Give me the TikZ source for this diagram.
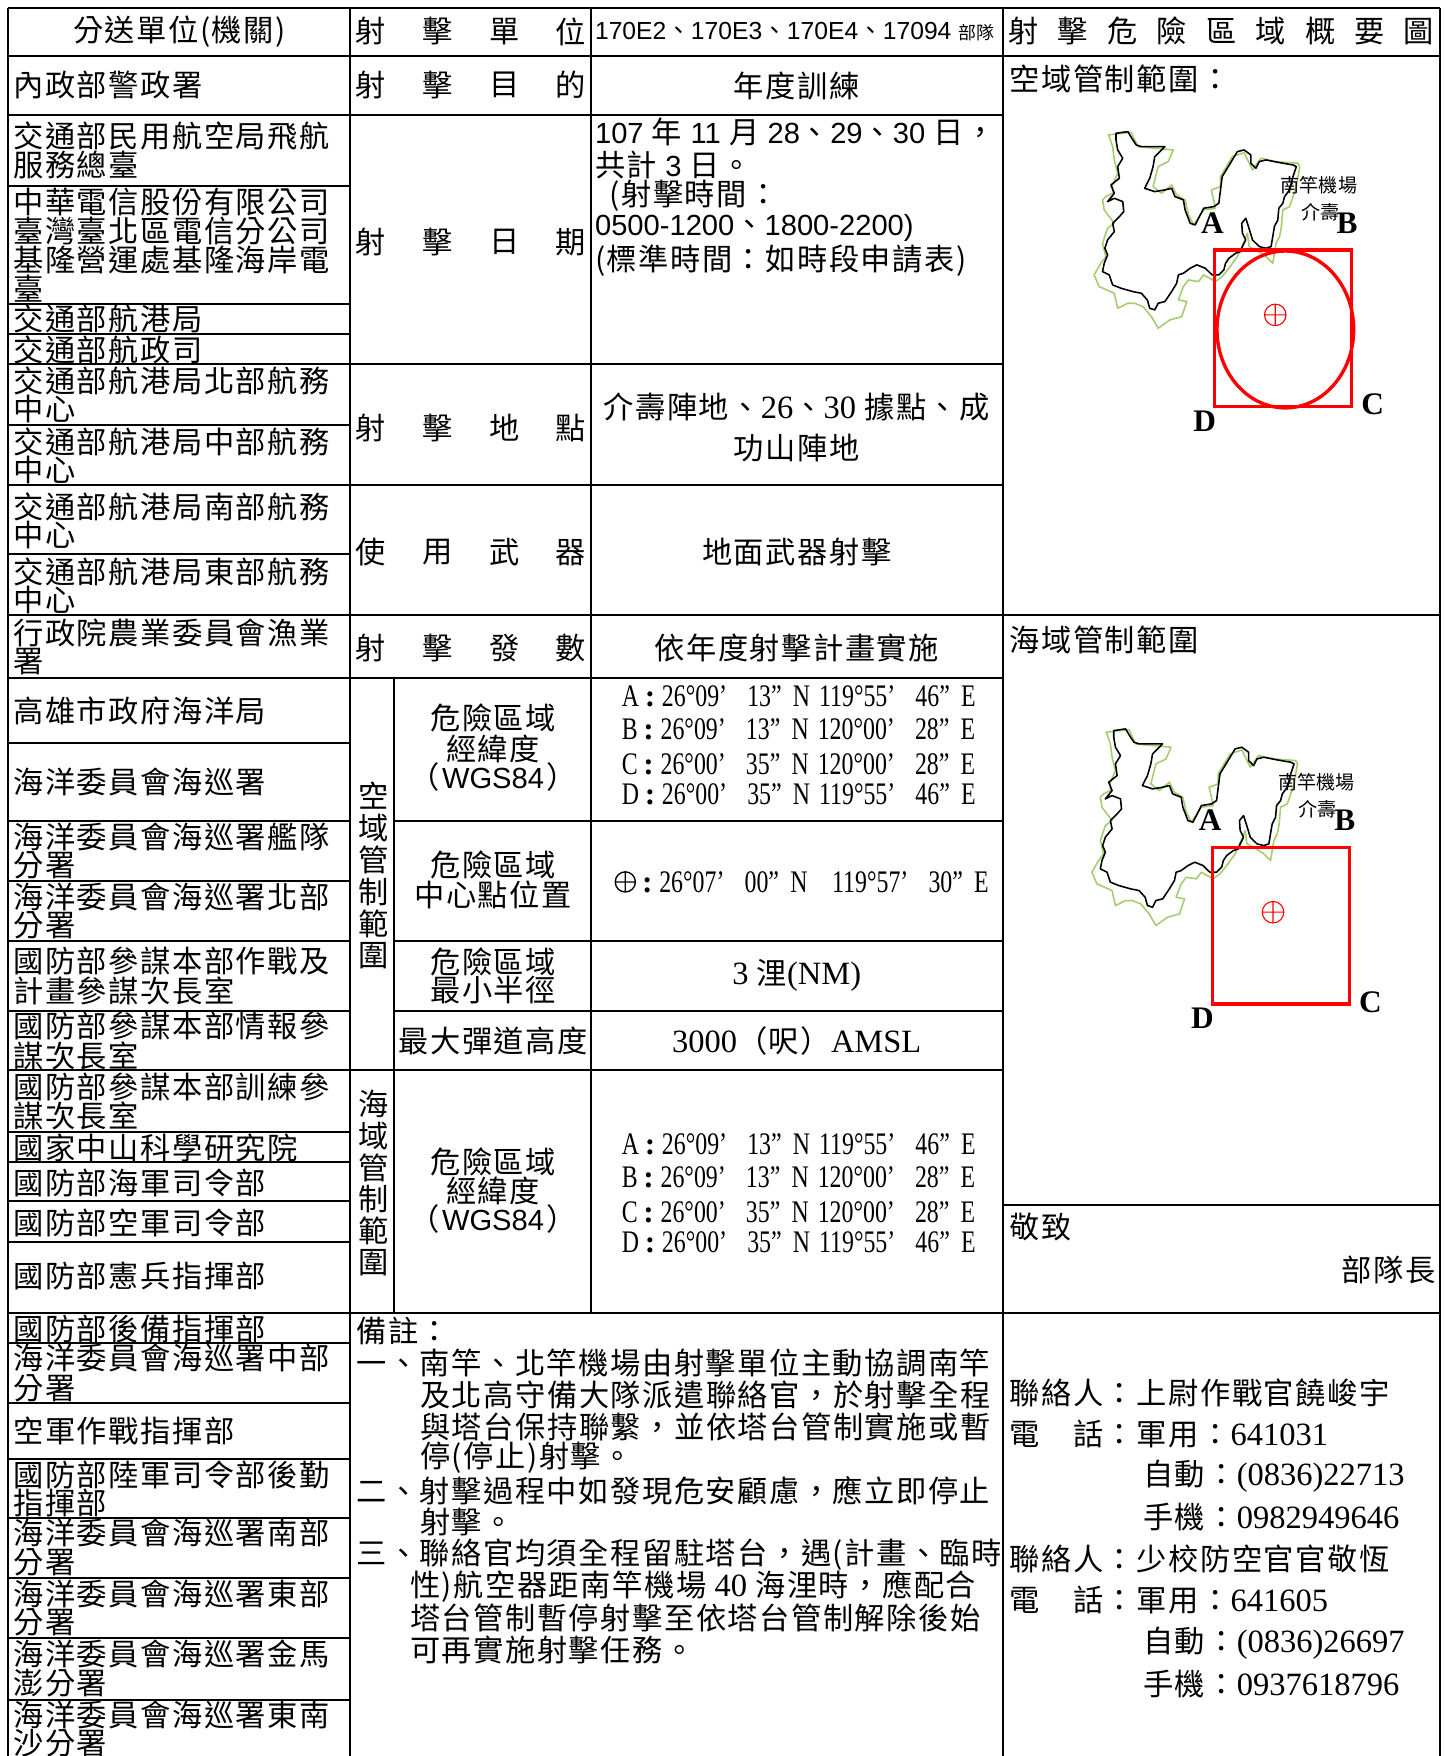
\documentclass[tikz,border=0pt]{standalone}
\usepackage{fontspec}
\newfontfamily\cjf[LetterSpace=5]{Noto Sans CJK TC}
\newfontfamily\cjw{Noto Sans CJK TC}
\newfontfamily\arf{Liberation Sans}
\newfontfamily\tmf{Liberation Serif}
\newfontfamily\tmcf[FakeStretch=0.76]{Liberation Serif}
\newcommand\cjt{\cjf\fontsize{13.5pt}{13.5pt}\selectfont}
\newcommand\cjsm{\cjw\fontsize{8.5pt}{8.5pt}\selectfont}
\newcommand\tmt{\tmf\fontsize{14.5pt}{14.5pt}\selectfont}
\newcommand\tmc{\tmcf\fontsize{14pt}{14pt}\selectfont}
\newcommand\art{\arf\fontsize{13pt}{13pt}\selectfont}
\newcommand\mapl{\tmf\bfseries\fontsize{14pt}{14pt}\selectfont}
\newcommand\cco{\hspace{2.5pt}{\tmf\bfseries :}\hspace{3pt}}
\newcommand\crd[5]{\tmc #1\cco #2\hspace{9pt}#3\hspace{5pt}N\hspace{4pt}#4\hspace{9pt}#5\hspace{5pt}E}
\newcounter{nn}
\newcommand\txl[3][]{\stepcounter{nn}\node[tl,#1] (t\thenn) at (#2) {#3};}
\newcommand\txc[3][]{\stepcounter{nn}\node[tc,#1] (t\thenn) at (#2) {#3};}
\newcommand\txr[3][]{\stepcounter{nn}\node[tr,#1] (t\thenn) at (#2) {#3};}
\definecolor{isl}{RGB}{165,205,110}
\begin{document}
\begin{tikzpicture}[x=0.5pt,y=-0.5pt,
  grid/.style={line width=0.9pt,black},
  tx/.style={inner sep=0pt,outer sep=0pt,font=\cjt},
  tl/.style={tx,anchor=west},
  tc/.style={tx,anchor=center},
  tr/.style={tx,anchor=east},
  redl/.style={draw=red,line width=1.5pt},
  lab/.style={inner sep=0pt,font=\mapl}]
\clip (0,0) rectangle (1290,1567);
\fill[white] (0,0) rectangle (1290,1567);
% ---------- grid ----------
\draw[grid] (7,7) -- (1285,7);
\draw[grid] (7,50) -- (1285,50);
\foreach \y in {103,325,433,605,955} \draw[grid] (7,\y) -- (895,\y);
\foreach \y in {549,1172} \draw[grid] (7,\y) -- (1285,\y);
\foreach \y in {166,271,298,379,494,663,733,786,840,902,1010,1037,1072,1108,1198,1252,1302,1355,1408,1462,1517}
  \draw[grid] (7,\y) -- (312,\y);
\foreach \y in {733,840,902} \draw[grid] (352,\y) -- (895,\y);
\draw[grid] (895,1075) -- (1285,1075);
\draw[grid] (7,7) -- (7,1570);
\draw[grid] (312,7) -- (312,1570);
\draw[grid] (352,605) -- (352,1172);
\draw[grid] (527,7) -- (527,1172);
\draw[grid] (895,7) -- (895,1570);
\draw[grid] (1285,7) -- (1285,1570);
% ---------- header ----------
\txc{160,28}{分送單位(機關)}
\foreach \c [count=\i from 0] in {射,擊,單,位} \node[tc] (h1\i) at (330.5+\i*59.7,28) {\c};
\txl{531,28}{\arf\fontsize{11pt}{11pt}\selectfont 170E2{\cjw、}170E3{\cjw、}170E4{\cjw、}17094 {\cjw\fontsize{8pt}{8pt}\selectfont 部隊}}
\foreach \c [count=\i from 0] in {射,擊,危,險,區,域,概,要,圖} \node[tc] (h2\i) at (913.5+\i*44.1,28) {\c};
% ---------- middle labels ----------
\foreach \c [count=\i from 0] in {射,擊,目,的} \node[tc] (m1\i) at (330.5+\i*59.7,76) {\c};
\foreach \c [count=\i from 0] in {射,擊,日,期} \node[tc] (m2\i) at (330.5+\i*59.7,216) {\c};
\foreach \c [count=\i from 0] in {射,擊,地,點} \node[tc] (m3\i) at (330.5+\i*59.7,382) {\c};
\foreach \c [count=\i from 0] in {使,用,武,器} \node[tc] (m4\i) at (330.5+\i*59.7,493) {\c};
\foreach \c [count=\i from 0] in {射,擊,發,數} \node[tc] (m5\i) at (330.5+\i*59.7,578) {\c};
\foreach \c [count=\i from 0] in {空,域,管,制,範,圍} \node[tc] (v1\i) at (333,710+\i*28.6) {\c};
\foreach \c [count=\i from 0] in {海,域,管,制,範,圍} \node[tc] (v2\i) at (333,985+\i*28.4) {\c};
% ---------- middle content ----------
\txc{711,77}{年度訓練}
\txl{531,118}{{\art 107} 年 {\art 11} 月 {\art 28}、{\art 29}、{\art 30} 日，}
\txl{531,147}{共計 {\art 3} 日。}
\txl{544,175}{(射擊時間：}
\txl{531,203}{{\art 0500-1200}、{\art 1800-2200)}}
\txl{531,233}{(標準時間：如時段申請表)}
\txc{711,363}{介壽陣地、{\tmt 26}、{\tmt 30} 據點、成}
\txc{711,400}{功山陣地}
\txc{711,493}{地面武器射擊}
\txc{711,578}{依年度射擊計畫實施}
\txc{440,641}{危險區域}
\txc{440,668}{經緯度}
\txc{440,693}{（\hspace{1pt}{\arf\fontsize{13pt}{13pt}\selectfont WGS84}\hspace{1pt}）}
\txl{555,621}{\crd{A}{26°09’}{13”}{119°55’}{46”}}
\txl{555,651}{\crd{B}{26°09’}{13”}{120°00’}{28”}}
\txl{555,682}{\crd{C}{26°00’}{35”}{120°00’}{28”}}
\txl{555,709}{\crd{D}{26°00’}{35”}{119°55’}{46”}}
\txc{440,772}{危險區域}
\txc{440,799}{中心點位置}
\draw[line width=0.6pt] (558,787) circle (9) (549,787) -- (567,787) (558,778) -- (558,796);
\txl{568,787}{\tmc \cco 26°07’\hspace{9pt}00”\hspace{5pt}N\hspace{11pt}119°57’\hspace{9pt}30”\hspace{5pt}E}
\txc{440,858}{危險區域}
\txc{440,883}{最小半徑}
\txc{711,870}{{\tmt 3} 浬{\tmt (NM)}}
\txc{440,929}{最大彈道高度}
\txc{711,929}{{\tmt 3000}（呎）{\tmt AMSL}}
\txc{440,1037}{危險區域}
\txc{440,1063}{經緯度}
\txc{440,1088}{（\hspace{1pt}{\arf\fontsize{13pt}{13pt}\selectfont WGS84}\hspace{1pt}）}
\txl{555,1021}{\crd{A}{26°09’}{13”}{119°55’}{46”}}
\txl{555,1051}{\crd{B}{26°09’}{13”}{120°00’}{28”}}
\txl{555,1082}{\crd{C}{26°00’}{35”}{120°00’}{28”}}
\txl{555,1109}{\crd{D}{26°00’}{35”}{119°55’}{46”}}
% ---------- remarks ----------
\txl{318,1188}{備註：}
\txl{318,1216}{一、南竿、北竿機場由射擊單位主動協調南竿}
\txl{375,1245}{及北高守備大隊派遣聯絡官，於射擊全程}
\txl{375,1273}{與塔台保持聯繫，並依塔台管制實施或暫}
\txl{375,1301}{停(停止)射擊。}
\txl{318,1330}{二、射擊過程中如發現危安顧慮，應立即停止}
\txl{375,1358}{射擊。}
\txl{318,1387}{三、聯絡官均須全程留駐塔台，遇(計畫、臨時}
\txl{366,1416}{性)航空器距南竿機場 {\tmt 40} 海浬時，應配合}
\txl{366,1444}{塔台管制暫停射擊至依塔台管制解除後始}
\txl{366,1472}{可再實施射擊任務。}
% ---------- left column ----------
\txl{12,76}{內政部警政署}
\txl{12,121}{交通部民用航空局飛航}
\txl{12,147}{服務總臺}
\txl{12,180}{中華電信股份有限公司}
\txl{12,206}{臺灣臺北區電信分公司}
\txl{12,232}{基隆營運處基隆海岸電}
\txl{12,258}{臺}
\txl{12,285}{交通部航港局}
\txl{12,312}{交通部航政司}
\txl{12,340}{交通部航港局北部航務}
\txl{12,365}{中心}
\txl{12,394}{交通部航港局中部航務}
\txl{12,419}{中心}
\txl{12,452}{交通部航港局南部航務}
\txl{12,477}{中心}
\txl{12,510}{交通部航港局東部航務}
\txl{12,535}{中心}
\txl{12,565}{行政院農業委員會漁業}
\txl{12,590}{署}
\txl{12,634}{高雄市政府海洋局}
\txl{12,698}{海洋委員會海巡署}
\txl{12,747}{海洋委員會海巡署艦隊}
\txl{12,772}{分署}
\txl{12,800}{海洋委員會海巡署北部}
\txl{12,826}{分署}
\txl{12,858}{國防部參謀本部作戰及}
\txl{12,884}{計畫參謀次長室}
\txl{12,916}{國防部參謀本部情報參}
\txl{12,942}{謀次長室}
\txl{12,970}{國防部參謀本部訓練參}
\txl{12,996}{謀次長室}
\txl{12,1024}{國家中山科學研究院}
\txl{12,1056}{國防部海軍司令部}
\txl{12,1091}{國防部空軍司令部}
\txl{12,1139}{國防部憲兵指揮部}
\txl{12,1186}{國防部後備指揮部}
\txl{12,1212}{海洋委員會海巡署中部}
\txl{12,1239}{分署}
\txl{12,1277}{空軍作戰指揮部}
\txl{12,1316}{國防部陸軍司令部後勤}
\txl{12,1341}{指揮部}
\txl{12,1368}{海洋委員會海巡署南部}
\txl{12,1394}{分署}
\txl{12,1422}{海洋委員會海巡署東部}
\txl{12,1448}{分署}
\txl{12,1476}{海洋委員會海巡署金馬}
\txl{12,1502}{澎分署}
\txl{12,1530}{海洋委員會海巡署東南}
\txl{12,1556}{沙分署}
% ---------- right column ----------
\txl{901,70}{空域管制範圍：}
\txl{901,571}{海域管制範圍}
\txl{901,1095}{敬致}
\txr{1281,1133}{部隊長}
\txl{901,1243}{聯絡人：上尉作戰官饒峻宇}
\txl{901,1280}{電　話：軍用：{\tmt 641031}}
\txl{1020,1317}{自動：{\tmt (0836)22713}}
\txl{1020,1354}{手機：{\tmt 0982949646}}
\txl{901,1391}{聯絡人：少校防空官官敬恆}
\txl{901,1428}{電　話：軍用：{\tmt 641605}}
\txl{1020,1466}{自動：{\tmt (0836)26697}}
\txl{1020,1503}{手機：{\tmt 0937618796}}
% ---------- maps ----------
\foreach \dx/\dy [count=\k] in {0/0,-2/533}{
  \begin{scope}[shift={(892.1+\dx,89.2+\dy)},xscale=0.3008,yscale=0.2974]
    \draw[isl,line width=0.7pt,line join=round] plot coordinates {(322,105) (390,97) (410,140) (515,150) (500,185) (470,200) (465,220) (455,260) (480,280) (510,255) (525,285) (550,300) (560,345) (575,375) (605,330) (640,325) (628,270) (655,260) (655,230) (690,170) (725,158) (750,210) (775,175) (820,185) (885,190) (890,200) (880,260) (860,320) (840,330) (835,385) (830,410) (820,430) (810,490) (790,470) (760,450) (740,440) (735,400) (725,425) (705,470) (680,505) (660,530) (640,545) (605,525) (590,545) (560,540) (545,560) (530,600) (555,605) (540,650) (505,660) (470,685) (450,650) (425,620) (400,610) (380,610) (350,625) (340,580) (295,560) (280,525) (300,490) (315,470) (305,430) (320,385) (340,370) (310,330) (305,300) (315,290) (335,280) (335,255) (350,220) (340,180) (335,140) (325,110)} -- cycle;
    \draw[black,line width=0.7pt,line join=round] plot coordinates {(345,100) (380,95) (395,120) (405,135) (420,140) (490,140) (470,160) (460,170) (455,200) (445,235) (430,265) (460,275) (490,270) (510,265) (520,290) (545,300) (550,330) (565,370) (580,375) (595,345) (605,325) (635,320) (650,310) (655,270) (660,230) (690,180) (705,155) (725,150) (745,165) (745,190) (760,205) (770,185) (790,180) (830,188) (870,195) (880,200) (870,230) (860,270) (845,290) (840,310) (828,325) (825,360) (815,380) (810,410) (805,440) (790,445) (770,440) (750,420) (738,380) (730,355) (718,370) (720,400) (730,420) (720,440) (715,455) (700,460) (680,475) (670,490) (665,510) (650,525) (630,525) (610,505) (585,495) (565,505) (545,520) (530,525) (525,550) (510,575) (500,590) (490,605) (470,610) (460,630) (445,625) (438,600) (420,580) (395,575) (360,565) (335,555) (325,525) (305,515) (310,490) (320,465) (312,445) (320,420) (340,395) (335,370) (355,350) (368,335) (365,305) (340,295) (320,305) (340,280) (330,255) (355,235) (350,200) (365,175) (350,150) (345,120)} -- cycle;
  \end{scope}
  \begin{scope}[shift={(\dx,\dy)}]
    \draw[redl] (1084,223) rectangle (1206,363);
    \draw[red,line width=0.5pt] (1138,281) circle (9.6) (1128.4,281) -- (1147.6,281) (1138,271.4) -- (1138,290.6);
    \node[lab] (A\k) at (1082,199) {A};
    \node[lab] (B\k) at (1202,199) {B};
    \node[lab] (C\k) at (1225,361) {C};
    \node[lab] (D\k) at (1075,376) {D};
    \node[inner sep=0pt,font=\cjsm] (nk\k) at (1177,165) {南竿機場};
    \node[inner sep=0pt,font=\cjsm] (js\k) at (1178,189) {介壽};
  \end{scope}
}
\draw[redl] (1147,294) ellipse (61 and 70);
\end{tikzpicture}
\end{document}
